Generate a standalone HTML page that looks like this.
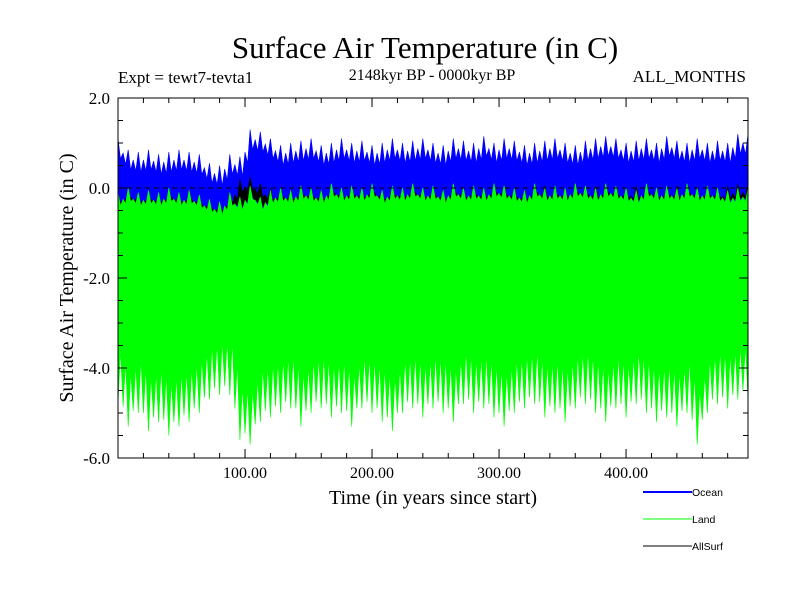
<!DOCTYPE html>
<html><head><meta charset="utf-8"><style>
body{margin:0;background:#fff}
svg text{font-family:"Liberation Serif",serif;fill:#000}
</style></head><body>
<svg id="c" width="800" height="600" xmlns="http://www.w3.org/2000/svg">
<text x="425" y="58" font-size="31" text-anchor="middle">Surface Air Temperature (in C)</text>
<text x="118" y="83" font-size="17">Expt = tewt7-tevta1</text>
<text x="432" y="80" font-size="16" text-anchor="middle">2148kyr BP - 0000kyr BP</text>
<text x="746" y="82" font-size="17" text-anchor="end">ALL_MONTHS</text>
<text transform="translate(73,278) rotate(-90)" font-size="20" text-anchor="middle">Surface Air Temperature (in C)</text>
<text x="433" y="504" font-size="20" text-anchor="middle">Time (in years since start)</text>
<g id="plot"></g>
<g id="axes"></g>
<g>
<g><line x1="643" y1="492" x2="692" y2="492" stroke="#0000ff" stroke-width="2"/><text x="692" y="496" font-size="10.5" style="font-family:'Liberation Sans',sans-serif">Ocean</text></g>
<g><line x1="643" y1="519" x2="692" y2="519" stroke="#00ff00" stroke-width="1"/><text x="692" y="523" font-size="10.5" style="font-family:'Liberation Sans',sans-serif">Land</text></g>
<g><line x1="643" y1="546" x2="692" y2="546" stroke="#000" stroke-width="1"/><text x="692" y="550" font-size="10.5" style="font-family:'Liberation Sans',sans-serif">AllSurf</text></g>
</g>
</svg>
<script>
const xTicks=[100,200,300,400];
const xTickLabels=["100.00","200.00","300.00","400.00"];
const yTicks=[2,0,-2,-4,-6];
const yTickLabels=["2.0","0.0","-2.0","-4.0","-6.0"];
const oceanHi=[1.1,0.85,0.8,0.85,0.75,0.8,0.85,0.8,0.75,0.55,0.5,0.75,0.7,1.3,1.25,1.1,0.95,1.0,1.05,1.1,0.95,1.0,1.1,1.0,1.05,0.95,1.0,1.1,1.0,1.05,1.1,1.0,0.95,1.1,1.05,1.0,1.15,1.0,1.1,1.05,0.95,1.0,1.05,1.1,1.0,0.95,1.05,1.1,1.15,1.1,1.0,1.05,1.1,1.0,1.15,1.05,1.0,1.1,1.0,1.05,1.0,1.2];
const allHi=[-0.2,-0.15,-0.2,-0.2,-0.15,-0.2,-0.2,-0.15,-0.2,-0.3,-0.35,-0.1,0.2,0.25,0.1,0.0,-0.05,-0.05,-0.1,0.0,-0.05,0.0,-0.1,0.05,-0.05,0.0,-0.1,0.05,-0.05,0.0,-0.1,0.0,-0.05,0.05,-0.1,-0.05,0.0,-0.1,0.05,-0.05,-0.1,0.0,0.05,-0.05,-0.1,0.0,-0.05,0.05,0.0,-0.1,0.0,0.05,-0.05,-0.1,0.0,0.05,-0.05,0.0,-0.1,0.0,0.05,0.1];
const landHi=[-0.1,0.0,-0.1,-0.05,-0.1,0.0,-0.1,-0.05,-0.15,-0.25,-0.3,-0.1,-0.2,0.05,-0.2,-0.05,0.0,-0.05,0.05,0.0,-0.05,0.1,0.0,0.05,0.0,0.1,-0.05,0.05,0.0,0.1,0.0,0.05,-0.05,0.1,0.0,0.05,0.0,0.1,0.05,0.0,-0.05,0.1,0.0,0.05,0.0,0.1,0.05,0.0,0.1,0.05,0.0,-0.05,0.1,0.0,0.05,0.0,0.1,0.0,0.05,0.0,-0.05,0.0];
const landLo=[-4.8,-5.3,-5.0,-5.4,-5.2,-5.5,-5.3,-5.2,-5.0,-4.7,-4.6,-4.6,-5.6,-5.7,-5.2,-5.1,-5.0,-4.9,-5.3,-5.0,-4.9,-5.1,-5.0,-5.3,-4.9,-5.0,-5.2,-5.4,-5.0,-4.9,-5.1,-4.9,-5.0,-5.2,-4.8,-5.0,-4.9,-5.1,-5.3,-5.0,-4.9,-4.8,-5.1,-5.0,-5.2,-4.9,-4.8,-5.0,-5.2,-4.9,-5.1,-4.8,-5.0,-5.2,-5.1,-5.3,-5.0,-5.7,-5.0,-4.8,-4.9,-4.7];
const X0=118,X1=748,Y0=98,Y1=458,TMAX=496;
const xs=t=>X0+(t/TMAX)*(X1-X0);
const ys=v=>Y0+(2-v)*(Y1-Y0)/8;
const NS="http://www.w3.org/2000/svg";
function mk(tag,attrs,parent){const e=document.createElementNS(NS,tag);for(const k in attrs)e.setAttribute(k,attrs[k]);parent.appendChild(e);return e;}
function edge(arr,depth,dir){
  const pts=[];const n=arr.length;const step=TMAX/n;
  for(let i=0;i<n;i++){
    const nb=i+1<n?arr[i+1]:arr[i];
    const mid=(arr[i]+nb)/2-dir*0.2;
    const t=i*step;
    pts.push([xs(t),ys(arr[i])]);
    pts.push([xs(t+step*0.25),ys(arr[i]-dir*depth)]);
    pts.push([xs(t+step*0.5),ys(mid)]);
    pts.push([xs(t+step*0.75),ys((arr[i]+nb)/2-dir*depth)]);
  }
  pts.push([xs(TMAX),ys(arr[n-1])]);
  return pts;
}
const plot=document.getElementById('plot');
function band(top,bottom,color,name){
  const p=top.concat(bottom.slice().reverse()).map(q=>q[0].toFixed(1)+','+q[1].toFixed(1)).join(' ');
  const e=mk('polygon',{points:p,fill:color,stroke:color,'stroke-width':0.6},plot);
  
  
}
const flat=v=>[[xs(0),ys(v)],[xs(TMAX),ys(v)]];
band(edge(oceanHi,0.45,1),flat(-0.6),'#0000ff','ocean-series');
band(edge(allHi,0.3,1),edge(landHi.map(v=>v-0.45),0.25,-1),'#000000','allsurf-series');
band(edge(landHi,0.3,1),edge(landLo,1.2,-1),'#00ff00','land-series');
const z=mk('line',{x1:X0,x2:X1,y1:ys(0),y2:ys(0),stroke:'#000','stroke-dasharray':'5,4','stroke-width':1},plot);


const ax=document.getElementById('axes');
const fr=mk('rect',{x:X0,y:Y0,width:X1-X0,height:Y1-Y0,fill:'none',stroke:'#000','stroke-width':1},ax);


for(let t=20;t<TMAX;t+=20){
  const L=(t%100===0)?9:5;
  mk('line',{x1:xs(t),x2:xs(t),y1:Y0,y2:Y0+L,stroke:'#000'},ax);
  mk('line',{x1:xs(t),x2:xs(t),y1:Y1,y2:Y1-L,stroke:'#000'},ax);
}
for(let v=1.5;v>-6;v-=0.5){
  const L=(Math.abs(v%2)<0.01)?9:5;
  mk('line',{x1:X0,x2:X0+L,y1:ys(v),y2:ys(v),stroke:'#000'},ax);
  mk('line',{x1:X1,x2:X1-L,y1:ys(v),y2:ys(v),stroke:'#000'},ax);
}
xTicks.forEach((t,i)=>{
  const e=mk('text',{x:xs(t),y:Y1+20,'font-size':16,'text-anchor':'middle'},ax);
  e.textContent=xTickLabels[i];
  
  
});
yTicks.forEach((v,i)=>{
  const e=mk('text',{x:X0-8,y:ys(v)+6,'font-size':17,'text-anchor':'end'},ax);
  e.textContent=yTickLabels[i];
  
  
});
</script>
</body></html>
